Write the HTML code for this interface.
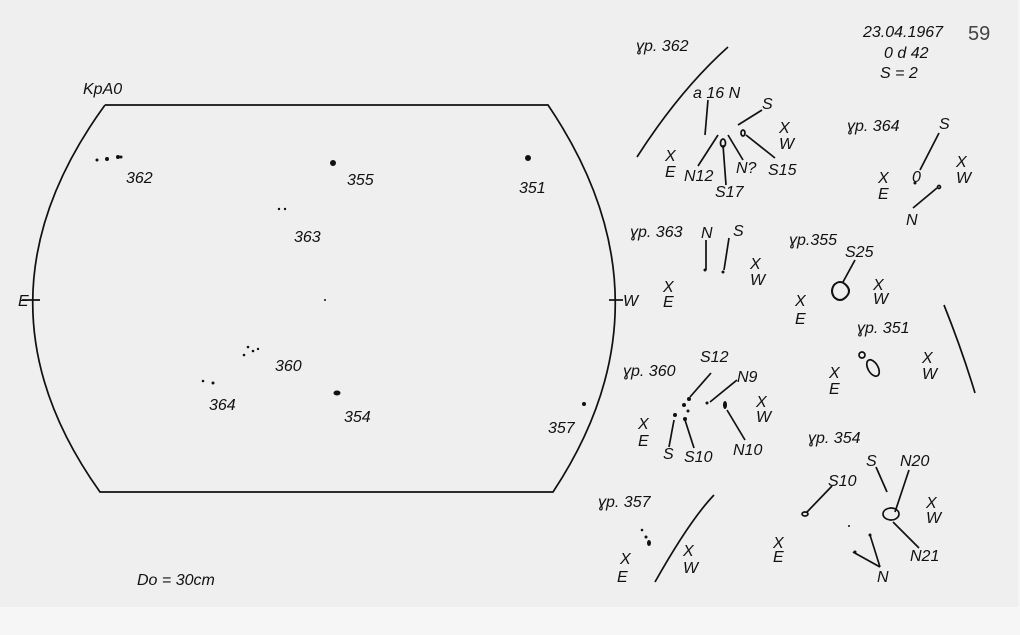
<!DOCTYPE html>
<html><head><meta charset="utf-8"><style>
html,body{margin:0;padding:0;background:#f5f5f5;}
svg{display:block}
text{font-family:"Liberation Sans",sans-serif;font-style:italic;font-size:16px;fill:#111}
</style></head><body>
<svg width="1020" height="635" viewBox="0 0 1020 635" xmlns="http://www.w3.org/2000/svg">
<rect x="0" y="0" width="1018" height="607" fill="#efefef"/>
<rect x="0" y="607" width="1020" height="28" fill="#f6f6f6"/>
<g stroke="#111" stroke-width="1.7" fill="none">
<path d="M105,105 L548,105 Q680,300 553,492 L100,492 Q-37,300 105,105"/>
<line x1="22" y1="300" x2="40" y2="300"/>
<line x1="609" y1="300" x2="623" y2="300"/>
<path d="M637,157 Q680,90 728,47"/>
<path d="M944,305 Q962,350 975,393"/>
<path d="M655,582 Q690,520 714,495"/>
<line x1="708" y1="100" x2="705" y2="135"/>
<line x1="738" y1="125" x2="762" y2="110"/>
<line x1="718" y1="135" x2="698" y2="166"/>
<line x1="723" y1="145" x2="726" y2="185"/>
<line x1="728" y1="135" x2="743" y2="160"/>
<line x1="746" y1="135" x2="775" y2="158"/>
<ellipse cx="723" cy="143" rx="2.5" ry="4"/>
<ellipse cx="743" cy="133" rx="2" ry="3"/>
<line x1="939" y1="133" x2="920" y2="170"/>
<line x1="937" y1="188" x2="913" y2="208"/>
<circle cx="939" cy="187" r="1.5"/>
<line x1="706" y1="240" x2="706" y2="270"/>
<line x1="729" y1="238" x2="724" y2="270"/>
<line x1="855" y1="260" x2="843" y2="282"/>
<path d="M834,285 q6,-6 12,0 q6,6 0,12 q-6,6 -12,0 q-4,-6 0,-12z" stroke-width="2"/>
<ellipse cx="873" cy="368" rx="5" ry="9" transform="rotate(-30 873 368)"/>
<circle cx="862" cy="355" r="3"/>
<line x1="711" y1="373" x2="690" y2="397"/>
<line x1="737" y1="380" x2="710" y2="402"/>
<line x1="674" y1="420" x2="669" y2="447"/>
<line x1="685" y1="420" x2="694" y2="448"/>
<line x1="727" y1="410" x2="745" y2="440"/>
<line x1="832" y1="486" x2="807" y2="512"/>
<line x1="876" y1="467" x2="887" y2="492"/>
<line x1="909" y1="470" x2="895" y2="512"/>
<line x1="893" y1="522" x2="919" y2="548"/>
<line x1="870" y1="535" x2="880" y2="567"/>
<line x1="853" y1="552" x2="880" y2="567"/>
<ellipse cx="891" cy="514" rx="8" ry="6"/>
<ellipse cx="805" cy="514" rx="3" ry="2"/>
</g>
<g fill="#111">
<circle cx="97" cy="160" r="1.5"/><circle cx="107" cy="159" r="2"/><circle cx="118" cy="157" r="2"/><circle cx="121" cy="157" r="1.5"/>
<circle cx="333" cy="163" r="3"/>
<circle cx="528" cy="158" r="3"/>
<circle cx="279" cy="209" r="1.2"/><circle cx="285" cy="209" r="1.2"/>
<circle cx="248" cy="347" r="1.3"/><circle cx="253" cy="351" r="1.3"/><circle cx="244" cy="355" r="1.3"/><circle cx="258" cy="349" r="1.2"/>
<circle cx="203" cy="381" r="1.3"/><circle cx="213" cy="383" r="1.5"/>
<ellipse cx="337" cy="393" rx="3.5" ry="2.5"/>
<circle cx="584" cy="404" r="2"/>
<circle cx="325" cy="300" r="1"/>
<circle cx="689" cy="399" r="2"/><circle cx="684" cy="405" r="2"/><circle cx="675" cy="415" r="2"/><circle cx="688" cy="411" r="1.5"/><circle cx="685" cy="419" r="2"/>
<circle cx="707" cy="403" r="1.5"/><ellipse cx="725" cy="405" rx="2" ry="4"/>
<circle cx="642" cy="530" r="1.3"/><circle cx="646" cy="537" r="1.5"/><ellipse cx="649" cy="543" rx="2" ry="3"/>
<circle cx="849" cy="526" r="1"/><circle cx="870" cy="535" r="1.5"/><circle cx="855" cy="552" r="1.5"/>
<circle cx="705" cy="270" r="1.5"/><circle cx="723" cy="272" r="1.5"/>
<circle cx="915" cy="183" r="1.5"/>
</g>
<text x="83" y="94">KpA0</text>
<text x="126" y="183">362</text><text x="347" y="185">355</text><text x="519" y="193">351</text>
<text x="294" y="242">363</text><text x="275" y="371">360</text><text x="209" y="410">364</text>
<text x="344" y="422">354</text><text x="548" y="433">357</text>
<text x="18" y="306">E</text><text x="623" y="306">W</text>
<text x="137" y="585">Do = 30cm</text>
<text x="863" y="37">23.04.1967</text><text x="884" y="58">0 d 42</text><text x="880" y="78">S = 2</text>
<text x="968" y="40" style="font-style:normal;font-size:20px;fill:#444">59</text>
<text x="636" y="51">ɣр. 362</text><text x="693" y="98">a 16 N</text><text x="762" y="109">S</text>
<text x="684" y="181">N12</text><text x="715" y="197">S17</text><text x="736" y="173">N?</text><text x="768" y="175">S15</text>
<text x="665" y="161">X</text><text x="665" y="177">E</text><text x="779" y="133">X</text><text x="779" y="149">W</text>
<text x="847" y="131">ɣр. 364</text><text x="939" y="129">S</text><text x="906" y="225">N</text><text x="912" y="182">0</text>
<text x="878" y="183">X</text><text x="878" y="199">E</text><text x="956" y="167">X</text><text x="956" y="183">W</text>
<text x="630" y="237">ɣр. 363</text><text x="701" y="238">N</text><text x="733" y="236">S</text>
<text x="663" y="292">X</text><text x="663" y="307">E</text><text x="750" y="269">X</text><text x="750" y="285">W</text>
<text x="789" y="245">ɣр.355</text><text x="845" y="257">S25</text>
<text x="795" y="306">X</text><text x="795" y="324">E</text><text x="873" y="290">X</text><text x="873" y="304">W</text>
<text x="857" y="333">ɣр. 351</text><text x="829" y="378">X</text><text x="829" y="394">E</text><text x="922" y="363">X</text><text x="922" y="379">W</text>
<text x="623" y="376">ɣр. 360</text><text x="700" y="362">S12</text><text x="737" y="382">N9</text>
<text x="663" y="459">S</text><text x="684" y="462">S10</text><text x="733" y="455">N10</text>
<text x="638" y="429">X</text><text x="638" y="446">E</text><text x="756" y="407">X</text><text x="756" y="422">W</text>
<text x="808" y="443">ɣр. 354</text><text x="866" y="466">S</text><text x="900" y="466">N20</text><text x="828" y="486">S10</text>
<text x="910" y="561">N21</text><text x="877" y="582">N</text>
<text x="773" y="548">X</text><text x="773" y="562">E</text><text x="926" y="508">X</text><text x="926" y="523">W</text>
<text x="598" y="507">ɣр. 357</text><text x="620" y="564">X</text><text x="617" y="582">E</text><text x="683" y="556">X</text><text x="683" y="573">W</text>
</svg>
</body></html>
